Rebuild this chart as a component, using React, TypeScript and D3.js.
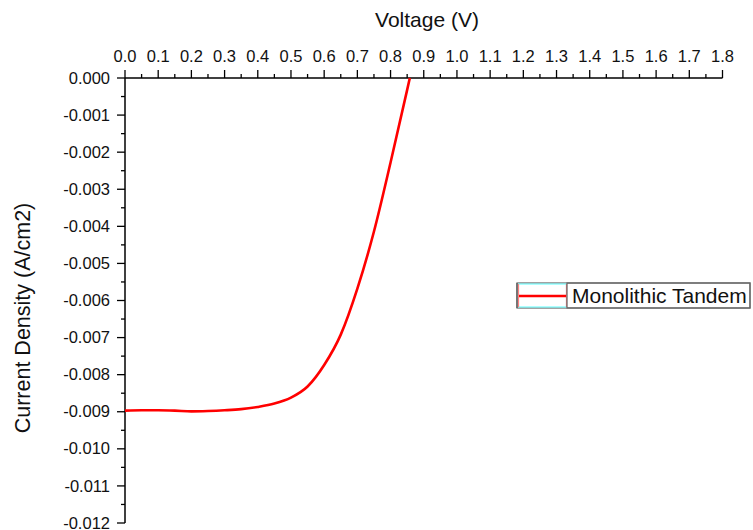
import React from "react";
import * as d3 from "d3";

// J–V curve of the monolithic tandem cell
const voltage = [0, 0.05, 0.1, 0.15, 0.2, 0.25, 0.3, 0.35, 0.4, 0.45, 0.5, 0.55, 0.6, 0.65, 0.7, 0.75, 0.8, 0.85, 0.858];
const currentDensity = [
  -0.00897, -0.00896, -0.00896, -0.00897, -0.00899, -0.00898, -0.00896, -0.00893, -0.00887,
  -0.00878, -0.00862, -0.00832, -0.00774, -0.00692, -0.00568, -0.00414, -0.00228, -0.00032, 0,
];
const xTicks = d3.range(0, 19).map((i) => i / 10);
const yTicks = d3.range(0, 13).map((i) => -i / 1000);
const seriesName = "Monolithic Tandem";

const W = 753;
const H = 530;
const FONT = "'Liberation Sans', Arial, sans-serif";

export default function App() {
  const x = d3.scaleLinear().domain([0, 1.8]).range([125, 722.5]);
  const y = d3.scaleLinear().domain([-0.012, 0]).range([523, 78]);

  const pts: [number, number][] = voltage.map((v, i) => [v, currentDensity[i]]);
  const line = d3
    .line<[number, number]>()
    .x((d) => x(d[0]))
    .y((d) => y(d[1]))
    .curve(d3.curveMonotoneX);

  const xMinor = d3.range(0, 18).map((i) => i / 10 + 0.05);
  const yMinor = d3.range(0, 12).map((i) => -i / 1000 - 0.0005);

  const x0 = x(0);
  const yTop = y(0);

  return (
    <svg
      width={W}
      height={H}
      style={{ position: "absolute", left: 0, top: 0, background: "#fff" }}
      fontFamily={FONT}
    >
      <rect x={0} y={0} width={W} height={H} fill="#fff" />

      {/* top (voltage) axis */}
      <text x={427} y={27} fontSize={21} textAnchor="middle" fill="#111">
        Voltage (V)
      </text>
      <line x1={x0} x2={x(1.8)} y1={yTop} y2={yTop} stroke="#000" strokeWidth={1.5} />
      {xTicks.map((t) => (
        <g key={"xt" + t}>
          <line x1={x(t)} x2={x(t)} y1={yTop} y2={yTop - 8} stroke="#000" strokeWidth={1.3} />
          <text x={x(t)} y={62} fontSize={16.5} textAnchor="middle" fill="#111">
            {t.toFixed(1)}
          </text>
        </g>
      ))}
      {xMinor.map((t) => (
        <line key={"xm" + t} x1={x(t)} x2={x(t)} y1={yTop} y2={yTop - 4} stroke="#000" strokeWidth={1.3} />
      ))}

      {/* left (current density) axis */}
      <text
        transform={`translate(30,318) rotate(-90)`}
        fontSize={21.5}
        textAnchor="middle"
        fill="#111"
      >
        Current Density (A/cm2)
      </text>
      <line x1={x0} x2={x0} y1={yTop} y2={y(-0.012)} stroke="#000" strokeWidth={1.5} />
      {yTicks.map((t) => (
        <g key={"yt" + t}>
          <line x1={x0} x2={x0 - 8} y1={y(t)} y2={y(t)} stroke="#000" strokeWidth={1.3} />
          <text x={110} y={y(t)} dy="0.34em" fontSize={16.5} textAnchor="end" fill="#111">
            {t === 0 ? "0.000" : d3.format(".3f")(t).replace("−", "-")}
          </text>
        </g>
      ))}
      {yMinor.map((t) => (
        <line key={"ym" + t} x1={x0} x2={x0 - 4} y1={y(t)} y2={y(t)} stroke="#000" strokeWidth={1.3} />
      ))}

      {/* data */}
      <path d={line(pts) ?? ""} fill="none" stroke="#ff0000" strokeWidth={2.6} strokeLinejoin="round" />

      {/* legend */}
      <g>
        <rect x={517} y={283} width={233} height={25} fill="#fff" stroke="#666" strokeWidth={1.2} />
        <rect x={518.5} y={284} width={48} height={23} fill="#fff" stroke="#7ff" strokeWidth={1.2} />
        <line x1={518.5} x2={518.5} y1={284} y2={307} stroke="#ff8080" strokeWidth={1.2} />
        <line x1={566.5} x2={566.5} y1={284} y2={307} stroke="#ff8080" strokeWidth={1.2} />
        <line x1={517} x2={517} y1={283} y2={308} stroke="#666" strokeWidth={1.5} />
        <line x1={519} x2={566} y1={296} y2={296} stroke="#ff0000" strokeWidth={2.6} />
        <rect x={567} y={283} width={183} height={25} fill="none" stroke="#666" strokeWidth={1.2} />
        <text x={572} y={303} fontSize={21} fill="#111">
          {seriesName}
        </text>
      </g>
    </svg>
  );
}
